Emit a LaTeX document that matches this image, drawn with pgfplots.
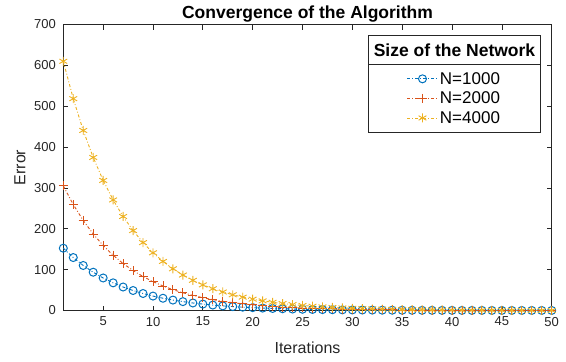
\documentclass[border=0pt]{standalone}
\usepackage{fontspec}
\setmainfont{Liberation Sans}
\usepackage{pgfplots}
\pgfplotsset{compat=1.18}
\definecolor{mblue}{rgb}{0,0.447,0.741}
\definecolor{mred}{rgb}{0.85,0.325,0.098}
\definecolor{myellow}{rgb}{0.929,0.694,0.125}
\definecolor{axgray}{rgb}{0.15,0.15,0.15}

\begin{document}
\begin{tikzpicture}
\begin{axis}[
  scale only axis, width=488.4pt, height=286pt,
  xmin=1, xmax=50, ymin=0, ymax=700,
  xtick={5,10,...,50}, ytick={0,100,...,700},
  tick align=inside, major tick length=5pt,
  axis line style={axgray, line width=0.7pt},
  every tick/.style={axgray, line width=0.7pt},
  tick label style={font=\fontsize{13}{13}\selectfont, text=axgray},
  /pgf/number format/assume math mode=true,
  xticklabel style={yshift=-3pt},
  yticklabel style={xshift=-4pt},
  title={Convergence of the Algorithm},
  title style={font=\bfseries\fontsize{17.5}{17.5}\selectfont, at={(axis description cs:0.5,1)}, anchor=base, yshift=0.5pt},
  xlabel={Iterations}, ylabel={Error},
  label style={font=\fontsize{16}{16}\selectfont, text=axgray},
  xlabel style={at={([yshift=-43pt]axis description cs:0.5,0)}, anchor=base},
  ylabel style={at={([xshift=-38pt]axis description cs:0,0.5)}, anchor=base},
  clip=false,
  legend style={name=L, at={(rel axis cs:0.801,0.861)}, anchor=north, draw=none, fill=none,
    font=\fontsize{17}{17}\selectfont, inner xsep=2pt, inner ysep=4.6pt, row sep=0pt,
    nodes={inner xsep=2pt, inner ysep=3.1pt}},
  legend image code/.code={\draw[mark repeat=2,mark phase=2,#1] plot coordinates {(0pt,0pt)(15pt,0pt)(30pt,0pt)};},
]
\addplot[mblue, line width=0.9pt, dash dot, mark=o, mark size=4pt, mark options={solid, line width=1pt}] coordinates {
(1,152.5)(2,129.6)(3,110.2)(4,93.7)(5,79.6)(6,67.7)(7,57.5)(8,48.9)(9,41.6)(10,35.3)
(11,30.0)(12,25.5)(13,21.7)(14,18.4)(15,15.7)(16,13.3)(17,11.3)(18,9.6)(19,8.2)(20,7.0)
(21,5.9)(22,5.0)(23,4.3)(24,3.6)(25,3.1)(26,2.6)(27,2.2)(28,1.9)(29,1.6)(30,1.4)
(31,1.2)(32,1.0)(33,0.8)(34,0.7)(35,0.6)(36,0.5)(37,0.4)(38,0.4)(39,0.3)(40,0.3)
(41,0.2)(42,0.2)(43,0.2)(44,0.1)(45,0.1)(46,0.1)(47,0.1)(48,0.1)(49,0.1)(50,0.1)};
\addplot[mred, line width=0.9pt, dash dot, mark=+, mark size=4.5pt, mark options={solid, line width=0.9pt}] coordinates {
(1,305.0)(2,259.3)(3,220.3)(4,187.3)(5,159.2)(6,135.3)(7,115.0)(8,97.8)(9,83.1)(10,70.6)
(11,60.0)(12,51.0)(13,43.4)(14,36.9)(15,31.3)(16,26.6)(17,22.6)(18,19.2)(19,16.4)(20,13.9)
(21,11.8)(22,10.0)(23,8.5)(24,7.3)(25,6.2)(26,5.2)(27,4.5)(28,3.8)(29,3.2)(30,2.7)
(31,2.3)(32,2.0)(33,1.7)(34,1.4)(35,1.2)(36,1.0)(37,0.9)(38,0.7)(39,0.6)(40,0.5)
(41,0.5)(42,0.4)(43,0.3)(44,0.3)(45,0.2)(46,0.2)(47,0.2)(48,0.1)(49,0.1)(50,0.1)};
\addplot[myellow, line width=0.9pt, dash dot, mark=asterisk, mark size=4.5pt, mark options={solid, line width=0.9pt}] coordinates {
(1,610.0)(2,518.5)(3,440.7)(4,374.6)(5,318.4)(6,270.7)(7,230.1)(8,195.6)(9,166.2)(10,141.3)
(11,120.1)(12,102.1)(13,86.8)(14,73.8)(15,62.7)(16,53.3)(17,45.3)(18,38.5)(19,32.7)(20,27.8)
(21,23.6)(22,20.1)(23,17.1)(24,14.5)(25,12.3)(26,10.5)(27,8.9)(28,7.6)(29,6.4)(30,5.5)
(31,4.7)(32,4.0)(33,3.4)(34,2.9)(35,2.4)(36,2.1)(37,1.8)(38,1.5)(39,1.3)(40,1.1)
(41,0.9)(42,0.8)(43,0.7)(44,0.6)(45,0.5)(46,0.4)(47,0.3)(48,0.3)(49,0.2)(50,0.2)};
\legend{N=1000,N=2000,N=4000}
\end{axis}
\node[anchor=south, font=\bfseries\fontsize{17.5}{17.5}\selectfont, inner xsep=5pt, inner ysep=8pt, text depth=0pt] (T) at (L.north) {Size of the Network};
\draw[axgray, line width=0.6pt] (T.north west) rectangle (T.south east |- L.south);
\draw[axgray, line width=0.6pt] (T.south west) -- (T.south east);
\pgfresetboundingbox
\path[use as bounding box] ([shift={(-63.3pt,-51.5pt)}]current axis.south west) rectangle ([shift={(14.3pt,24.5pt)}]current axis.north east);
\end{tikzpicture}
\end{document}
